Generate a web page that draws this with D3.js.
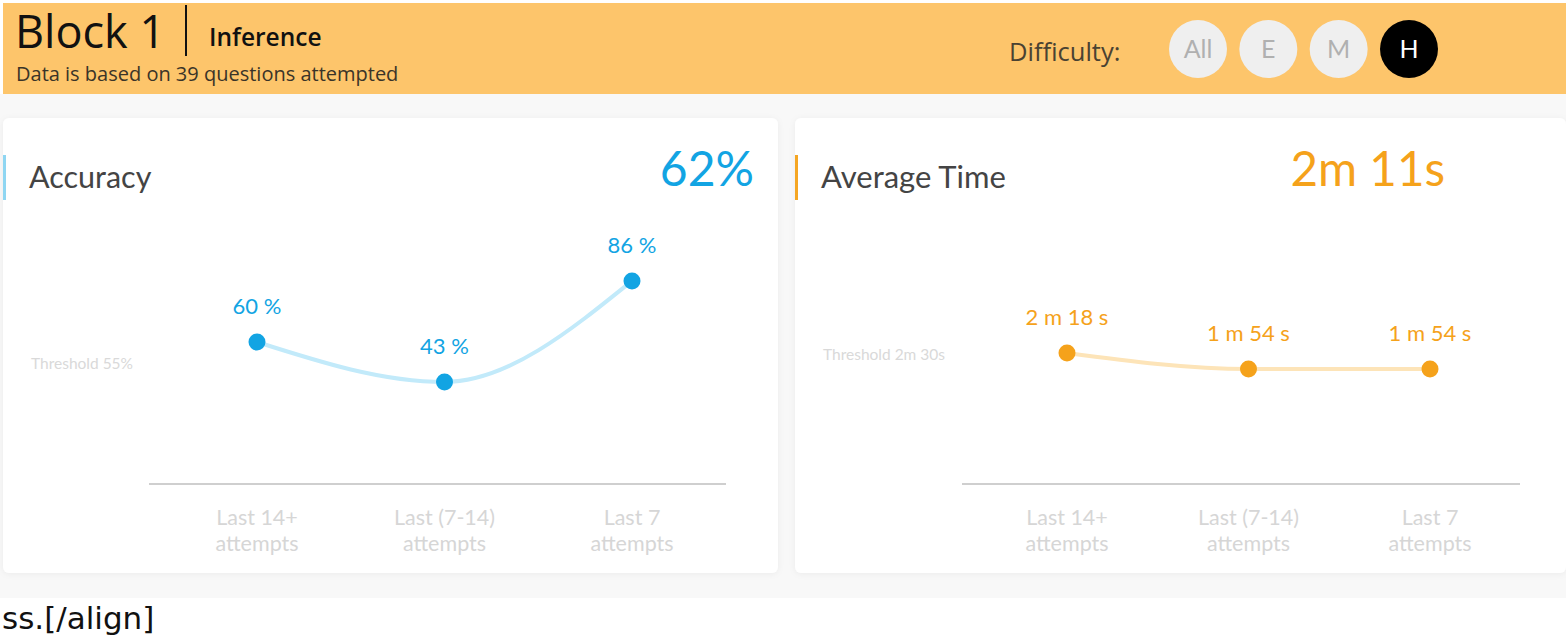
<!DOCTYPE html>
<html><head><meta charset="utf-8">
<script src="https://cdn.jsdelivr.net/npm/d3@7"></script>
<style>
html,body{margin:0;padding:0;background:#fff;overflow:hidden}
svg{display:block}
</style></head>
<body>
<svg id="chart" width="1566" height="638"></svg>
<script>
// ---- data ----
const categories = ["Last 14+|attempts", "Last (7-14)|attempts", "Last 7|attempts"];
const accuracyValues = [60, 43, 86];
const accuracyLabels = ["60 %", "43 %", "86 %"];
const accuracyThreshold = 55;
const timeValues = [138, 114, 114]; // seconds
const timeLabels = ["2 m 18 s", "1 m 54 s", "1 m 54 s"];
const timeThreshold = 150;
const difficultyOptions = ["All", "E", "M", "H"];
const selectedDifficulty = "H";

const svg = d3.select("#chart");
const F = "Lato, 'Noto Sans', sans-serif";
const H = "'Open Sans', 'Noto Sans', sans-serif";

// background
svg.append("rect").attr("x",0).attr("y",0).attr("width",1566).attr("height",638).attr("fill","#fff");
svg.append("rect").attr("x",0).attr("y",94).attr("width",1566).attr("height",504).attr("fill","#f8f8f8");
// header
svg.append("rect").attr("x",3).attr("y",3).attr("width",1563).attr("height",91).attr("fill","#fdc56b");
svg.append("text").attr("x",15).attr("y",48).attr("font-family",H).attr("font-size",45).attr("fill","#111").text("Block 1");
svg.append("line").attr("x1",186).attr("x2",186).attr("y1",5).attr("y2",56).attr("stroke","#111").attr("stroke-width",2);
svg.append("text").attr("x",209).attr("y",46).attr("font-family",H).attr("font-weight",600).attr("font-size",24.5).attr("fill","#111").text("Inference");
svg.append("text").attr("x",16).attr("y",81).attr("font-family",H).attr("font-size",20).attr("fill","#3a3428").text("Data is based on 39 questions attempted");
svg.append("text").attr("x",1009).attr("y",61).attr("font-family",H).attr("font-size",25.5).attr("fill","#4a4232").text("Difficulty:");

const dx = d3.scalePoint().domain(difficultyOptions).range([1198,1409]);
const dg = svg.append("g").selectAll("g").data(difficultyOptions).join("g")
  .attr("transform", d => `translate(${dx(d)},49)`);
dg.append("circle").attr("r",29).attr("fill", d => d===selectedDifficulty ? "#000" : "#efefef");
dg.append("text").attr("text-anchor","middle").attr("dy",9).attr("font-family",F).attr("font-size",25)
  .attr("fill", d => d===selectedDifficulty ? "#fff" : "#b0b0b0").text(d => d);

// cards
const defs = svg.append("defs");
const filt = defs.append("filter").attr("id","sh").attr("x","-5%").attr("y","-5%").attr("width","110%").attr("height","115%");
filt.append("feDropShadow").attr("dx",0).attr("dy",1).attr("stdDeviation",3).attr("flood-color","#000").attr("flood-opacity",0.05);

function card(opt){
  const g = svg.append("g");
  g.append("rect").attr("x",opt.x0).attr("y",118).attr("width",opt.x1-opt.x0).attr("height",455).attr("rx",6)
    .attr("fill","#fff").attr("filter","url(#sh)");
  g.append("rect").attr("x",opt.x0).attr("y",155).attr("width",3).attr("height",45).attr("fill",opt.barColor);
  g.append("text").attr("x",opt.x0+26).attr("y",188).attr("font-family",F).attr("font-size",opt.titleSize).attr("fill","#444").text(opt.title);
  g.append("text").attr("x",opt.bigX).attr("y",186).attr("text-anchor","end").attr("font-family",F).attr("font-size",opt.bigSize)
    .attr("fill",opt.color).text(opt.big);

  const x = d3.scalePoint().domain(categories).range(opt.xr);
  const y = d3.scaleLinear().domain(opt.yd).range(opt.yr);

  // axis baseline
  g.append("line").attr("x1",opt.ax[0]).attr("x2",opt.ax[1]).attr("y1",484).attr("y2",484).attr("stroke","#cfcfcf").attr("stroke-width",2);
  // category labels
  const cl = g.append("g").selectAll("text").data(categories).join("text")
    .attr("x", d => x(d)).attr("text-anchor","middle").attr("font-family",F).attr("font-size",21.5).attr("fill","#d6d6d6");
  cl.append("tspan").attr("x", d => x(d)).attr("y",525).text(d => d.split("|")[0]);
  cl.append("tspan").attr("x", d => x(d)).attr("y",551).text(d => d.split("|")[1]);

  // threshold label
  g.append("text").attr("x",opt.x0+28).attr("y",y(opt.threshold)+15).attr("font-family",F).attr("font-size",15.5)
    .attr("fill","#d9d9d9").text(opt.thresholdLabel);

  const pts = categories.map((c,i)=>({c, v:opt.values[i], l:opt.labels[i]}));
  const line = d3.line().x(d=>x(d.c)).y(d=>y(d.v)).curve(d3.curveMonotoneX);
  g.append("path").datum(pts).attr("d",line).attr("fill","none").attr("stroke",opt.lineColor).attr("stroke-width",4).attr("stroke-linecap","round");
  g.selectAll("circle.pt").data(pts).join("circle").attr("class","pt")
    .attr("cx",d=>x(d.c)).attr("cy",d=>y(d.v)).attr("r",8.5).attr("fill",opt.color);
  g.selectAll("text.vl").data(pts).join("text").attr("class","vl")
    .attr("x",d=>x(d.c)).attr("y",d=>y(d.v)-28).attr("text-anchor","middle").attr("font-family",F).attr("font-size",22)
    .attr("fill",opt.color).text(d=>d.l);
}

card({x0:3,x1:778,barColor:"#8fd6f2",title:"Accuracy",titleSize:30.5,big:"62%",bigX:754,bigSize:48,color:"#12a4e3",lineColor:"#c2eafa",
  xr:[257,632],yd:[0,100],yr:[483,248],ax:[149,726],values:accuracyValues,labels:accuracyLabels,
  threshold:accuracyThreshold,thresholdLabel:"Threshold 55%"});
card({x0:795,x1:1566,barColor:"#f5a623",title:"Average Time",titleSize:31,big:"2m 11s",bigX:1445,bigSize:47.5,color:"#f5a21b",lineColor:"#fde4b8",
  xr:[1067,1430],yd:[0,300],yr:[445,245],ax:[962,1520],values:timeValues,labels:timeLabels,
  threshold:timeThreshold,thresholdLabel:"Threshold 2m 30s"});

// stray text at bottom
svg.append("text").attr("x",2).attr("y",629).attr("font-family","'DejaVu Sans', sans-serif").attr("font-size",31).attr("fill","#111").text("ss.[/align]");
</script>
</body></html>
